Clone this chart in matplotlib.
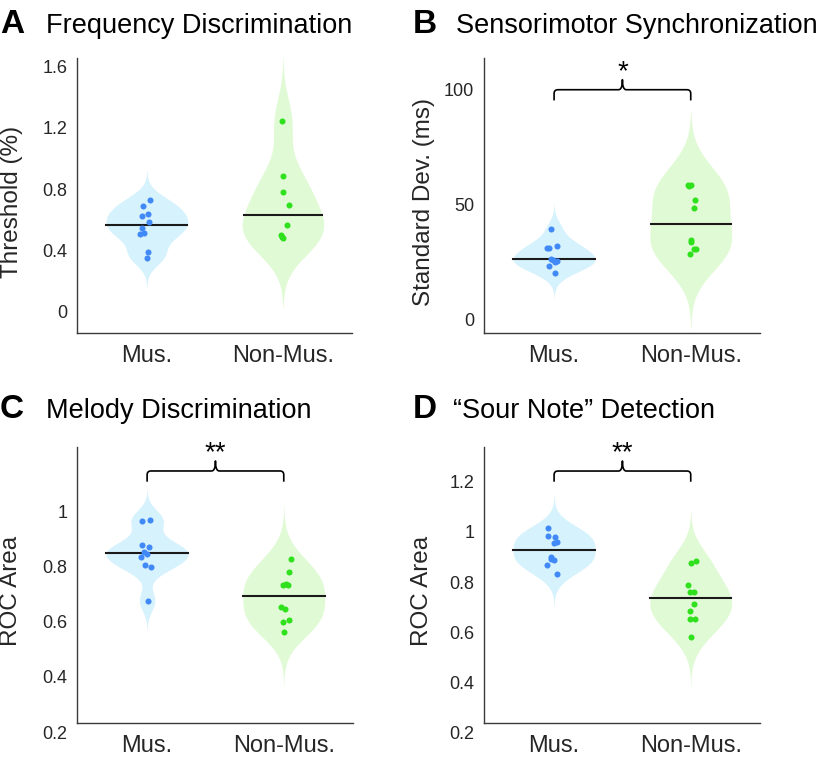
import numpy as np
import matplotlib
matplotlib.use('Agg')
import matplotlib.pyplot as plt

plt.rcParams['font.family'] = ['Liberation Sans', 'DejaVu Sans']

groups = ['Mus.', 'Non-Mus.']

# A - frequency discrimination threshold (%)
freq_mus = [0.728, 0.692, 0.638, 0.625, 0.588, 0.545, 0.506, 0.512, 0.388, 0.353]
freq_mus_jit = [0.024, -0.025, 0.009, -0.036, 0.019, -0.036, -0.049, -0.020, 0.012, 0.0]
freq_non = [1.241, 0.886, 0.779, 0.697, 0.566, 0.498, 0.483, 0.490]
freq_non_jit = [-0.004, 0.003, 0.0, 0.044, 0.029, -0.017, 0.003, -0.007]

# B - sensorimotor synchronization, standard dev. (ms)
sync_mus = [39.4, 31.1, 31.2, 32.1, 26.3, 26.1, 25.6, 24.9, 23.4, 20.3]
sync_mus_jit = [-0.019, -0.051, -0.039, 0.018, -0.026, -0.007, 0.018, 0.005, -0.039, 0.005]
sync_non = [58.6, 58.4, 58.0, 52.0, 48.7, 34.6, 33.6, 30.8, 30.7, 28.6]
sync_non_jit = [-0.020, 0.0, -0.011, 0.029, 0.027, 0.0, 0.0, 0.036, 0.024, -0.005]

# C - melody discrimination, ROC area
mel_mus = [0.966, 0.969, 0.879, 0.872, 0.853, 0.845, 0.833, 0.805, 0.797, 0.676]
mel_mus_jit = [-0.036, 0.022, -0.036, 0.017, -0.024, 0.002, -0.046, -0.017, 0.027, 0.010]
mel_non = [0.828, 0.779, 0.734, 0.733, 0.653, 0.646, 0.606, 0.600, 0.564, 0.735]
mel_non_jit = [0.051, 0.036, -0.002, 0.034, -0.017, 0.007, 0.039, -0.005, 0.002, 0.017]

# D - "sour note" detection, ROC area
sour_mus = [1.016, 0.983, 0.980, 0.954, 0.958, 0.900, 0.894, 0.890, 0.870, 0.834]
sour_mus_jit = [-0.044, -0.044, 0.005, -0.002, 0.018, -0.026, -0.019, 0.0, -0.055, 0.018]
sour_non = [0.886, 0.876, 0.789, 0.762, 0.759, 0.714, 0.684, 0.653, 0.653, 0.581]
sour_non_jit = [0.041, 0.0, -0.019, 0.027, -0.007, 0.027, -0.005, -0.002, 0.029, 0.002]

fill_cols = ['#d6f2fc', '#e1fad6']
dot_cols = ['#4189f6', '#2fe01c']
axis_col = '#3a3a3a'
text_col = '#262626'


def kde(vals):
    # gaussian kernel, robust bandwidth, evaluated over min-3bw .. max+3bw
    x = np.asarray(vals, float)
    n = len(x)
    sig = np.median(np.abs(x - np.median(x))) / 0.6745
    bw = sig * (4.0 / (3 * n)) ** 0.2
    yy = np.linspace(x.min() - 3 * bw, x.max() + 3 * bw, 200)
    d = np.exp(-0.5 * ((yy[:, None] - x[None, :]) / bw) ** 2).sum(axis=1)
    return yy, d


def violin(ax, pos, vals, jit, k):
    yy, d = kde(vals)
    w = d / d.max() * 0.3
    ax.fill_betweenx(yy, pos - w, pos + w, color=fill_cols[k], lw=0, zorder=1)
    med = np.median(vals)
    hw = np.interp(med, yy, w)
    ax.plot([pos - hw, pos + hw], [med, med], color='#1a1a1a', lw=1.5, zorder=3)
    ax.scatter(pos + np.asarray(jit), vals, s=19, color=dot_cols[k], lw=0, zorder=4)


def brace(ax, y, label):
    fig.canvas.draw()
    tr = ax.transData
    x1, yp = tr.transform((1, y))
    x2, _ = tr.transform((2, y))
    xm = (x1 + x2) / 2
    h, tip, r = 10.7, 10.0, 4.0
    t = np.linspace(0, 1, 12)[:, None]

    def q(p0, p1, p2):
        p0, p1, p2 = map(np.array, (p0, p1, p2))
        return (1 - t) ** 2 * p0 + 2 * (1 - t) * t * p1 + t ** 2 * p2

    left = np.vstack([[[x1, yp - h]],
                      q((x1, yp - r), (x1, yp), (x1 + r, yp)),
                      q((xm - r, yp), (xm, yp), (xm, yp + tip))])
    right = np.vstack([q((xm, yp + tip), (xm, yp), (xm + r, yp)),
                       q((x2 - r, yp), (x2, yp), (x2, yp - r)),
                       [[x2, yp - h]]])
    pts = tr.inverted().transform(np.vstack([left, right]))
    ax.plot(pts[:, 0], pts[:, 1], color='black', lw=1.2, clip_on=False,
            solid_capstyle='butt', solid_joinstyle='round')
    _, ys = tr.inverted().transform((xm, yp + tip + 1))
    ax.text(1.5, ys, label, ha='center', va='baseline', fontsize=20,
            color='black', clip_on=False)


fig = plt.figure(figsize=(8.22, 7.63), dpi=100)

panels = [
    dict(pos=[0.0937, 0.5636, 0.3345, 0.3604], data=(freq_mus, freq_mus_jit, freq_non, freq_non_jit),
         ylim=(-0.137, 1.654), yticks=[0, 0.4, 0.8, 1.2, 1.6], ylab='Threshold (%)',
         spine=None, lab_xy=(-0.196, 0.478), brace=None),
    dict(pos=[0.5888, 0.5636, 0.3358, 0.3604], data=(sync_mus, sync_mus_jit, sync_non, sync_non_jit),
         ylim=(-5.8, 113.8), yticks=[0, 50, 100], ylab='Standard Dev. (ms)',
         spine=None, lab_xy=(-0.178, 0.478), brace=(100.0, '*')),
    dict(pos=[0.0937, 0.0405, 0.3358, 0.3737], data=(mel_mus, mel_mus_jit, mel_non, mel_non_jit),
         ylim=(0.2, 1.233), yticks=[0.2, 0.4, 0.6, 0.8, 1], ylab='ROC Area',
         spine=0.233, lab_xy=(-0.199, 0.496), brace=(1.146, '**')),
    dict(pos=[0.5888, 0.0400, 0.3358, 0.3742], data=(sour_mus, sour_mus_jit, sour_non, sour_non_jit),
         ylim=(0.2, 1.339), yticks=[0.2, 0.4, 0.6, 0.8, 1, 1.2], ylab='ROC Area',
         spine=0.238, lab_xy=(-0.185, 0.497), brace=(1.243, '**')),
]

for p in panels:
    ax = fig.add_axes(p['pos'])
    m, mj, n, nj = p['data']
    violin(ax, 1, m, mj, 0)
    violin(ax, 2, n, nj, 1)
    ax.set_xlim(0.487, 2.507)
    ax.set_ylim(*p['ylim'])
    ax.set_xticks([1, 2])
    ax.set_xticklabels(groups)
    ax.set_yticks(p['yticks'])
    ax.set_yticklabels([f'{v:g}' for v in p['yticks']])
    for s in ['top', 'right']:
        ax.spines[s].set_visible(False)
    for s in ['left', 'bottom']:
        ax.spines[s].set_color(axis_col)
        ax.spines[s].set_linewidth(1.0)
    if p['spine'] is not None:
        ax.spines['bottom'].set_position(('data', p['spine']))
        ax.spines['left'].set_bounds(p['spine'], p['ylim'][1])
    ax.tick_params(axis='x', length=0, pad=9, labelsize=17, colors=text_col)
    ax.tick_params(axis='y', length=0, pad=7, labelsize=13, colors=text_col)
    ax.set_ylabel(p['ylab'], fontsize=17.5, color=text_col)
    ax.yaxis.set_label_coords(*p['lab_xy'])
    if p['brace'] is not None:
        brace(ax, *p['brace'])

titles = [('A', 'Frequency Discrimination', 0.0, 0.056, 0.9567),
          ('B', 'Sensorimotor Synchronization', 0.502, 0.555, 0.9567),
          ('C', 'Melody Discrimination', 0.0, 0.056, 0.4522),
          ('D', '\u201cSour Note\u201d Detection', 0.502, 0.551, 0.4522)]
for letter, title, xl, xt, yb in titles:
    fig.text(xl, yb, letter, fontsize=24, fontweight='bold', va='baseline', color='black')
    fig.text(xt, yb, title, fontsize=19.5, va='baseline', color='black')

fig.savefig('out.png', dpi=100)
